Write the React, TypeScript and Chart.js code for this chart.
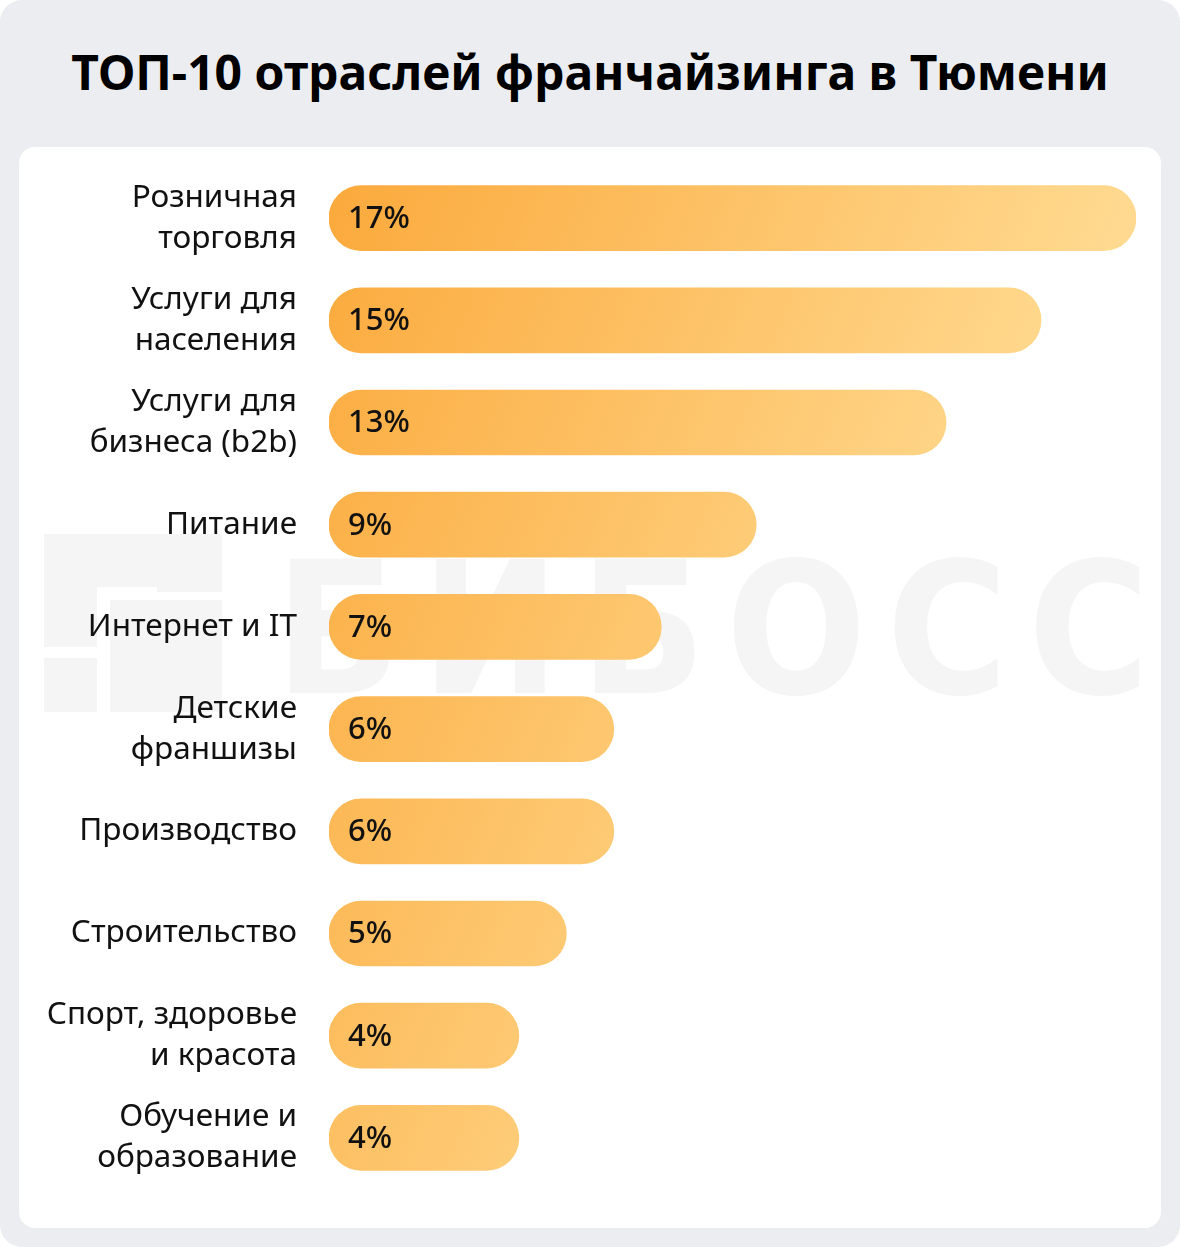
import React, { useEffect, useRef } from "react";
import { Chart, registerables } from "chart.js";

Chart.register(...registerables);

const TITLE = "ТОП-10 отраслей франчайзинга в Тюмени";
const WATERMARK = "БИБОСС";
const categories: string[][] = [
  ["Розничная", "торговля"],
  ["Услуги для", "населения"],
  ["Услуги для", "бизнеса (b2b)"],
  ["Питание"],
  ["Интернет и IT"],
  ["Детские", "франшизы"],
  ["Производство"],
  ["Строительство"],
  ["Спорт, здоровье", "и красота"],
  ["Обучение и", "образование"],
];
const values: number[] = [17, 15, 13, 9, 7, 6, 6, 5, 4, 4];
const valueLabels: string[] = ["17%", "15%", "13%", "9%", "7%", "6%", "6%", "5%", "4%", "4%"];

const FONT = "'Noto Sans', 'Open Sans', sans-serif";
const WM = "#F5F5F6";

const valueLabelPlugin = {
  id: "valueLabels",
  afterDatasetsDraw(chart: any) {
    const { ctx } = chart;
    const meta = chart.getDatasetMeta(0);
    ctx.save();
    ctx.font = `500 31px ${FONT}`;
    ctx.fillStyle = "#111111";
    ctx.textAlign = "left";
    ctx.textBaseline = "middle";
    meta.data.forEach((bar: any, i: number) => {
      ctx.fillText(valueLabels[i], bar.base + 19, bar.y + 1);
    });
    ctx.restore();
  },
};

export default function App() {
  const canvasRef = useRef<HTMLCanvasElement | null>(null);

  useEffect(() => {
    document.body.style.margin = "0";
    const canvas = canvasRef.current;
    if (!canvas) return;
    const chart = new Chart(canvas, {
      type: "bar",
      data: {
        labels: categories,
        datasets: [
          {
            data: values,
            backgroundColor: (c: any) => {
              const area = c.chart.chartArea;
              if (!area) return "#FDBB55";
              const g = c.chart.ctx.createLinearGradient(
                area.left,
                area.top,
                area.left + 698,
                area.top + 276
              );
              g.addColorStop(0, "#FBA93B");
              g.addColorStop(1, "#FFD98F");
              return g;
            },
            borderRadius: 40,
            borderSkipped: false,
            barThickness: 65,
          },
        ],
      },
      options: {
        indexAxis: "y",
        animation: false,
        responsive: false,
        maintainAspectRatio: false,
        layout: { padding: { left: 0, right: 25, top: 20, bottom: 39 } },
        plugins: {
          legend: { display: false },
          tooltip: { enabled: false },
        },
        scales: {
          x: {
            display: false,
            min: 0,
            max: 17,
          },
          y: {
            grid: { display: false, drawTicks: false },
            border: { display: false },
            afterFit: (scale: any) => {
              scale.width = 310;
              scale.paddingTop = 0;
              scale.paddingBottom = 0;
            },
            ticks: {
              padding: 32,
              color: "#111111",
              font: { family: FONT, size: 31.5, lineHeight: 1.3 },
            },
          },
        },
      },
      plugins: [valueLabelPlugin],
    } as any);
    return () => chart.destroy();
  }, []);

  const block = (left: number, top: number, width: number, height: number) => (
    <div style={{ position: "absolute", left, top, width, height, background: WM }} />
  );

  return (
    <div
      style={{
        position: "relative",
        width: 1180,
        height: 1247,
        background: "#ECEDF1",
        borderRadius: 22,
        overflow: "hidden",
        fontFamily: FONT,
      }}
    >
      <div
        style={{
          position: "absolute",
          left: 0,
          right: 0,
          top: 38,
          textAlign: "center",
          fontSize: 48,
          fontWeight: 700,
          color: "#000",
          lineHeight: "68px",
        }}
      >
        {TITLE}
      </div>
      <div
        style={{
          position: "absolute",
          left: 19,
          top: 147,
          width: 1142,
          height: 1081,
          background: "#FFFFFF",
          borderRadius: 16,
          overflow: "hidden",
        }}
      >
        {/* watermark logo */}
        {block(25, 387, 113, 53)}
        {block(25, 387, 53, 113)}
        {block(138, 387, 65, 58)}
        {block(91, 453, 112, 112)}
        {block(25, 511, 53, 54)}
        <div
          style={{
            position: "absolute",
            left: 256,
            top: 390,
            fontFamily: "'DejaVu Sans Condensed', 'DejaVu Sans', sans-serif",
            fontWeight: 700,
            fontSize: 184,
            letterSpacing: 20,
            color: WM,
            lineHeight: "184px",
            whiteSpace: "nowrap",
          }}
        >
          {WATERMARK}
        </div>
        <canvas
          ref={canvasRef}
          width={1142}
          height={1081}
          style={{ position: "absolute", left: 0, top: 0, width: 1142, height: 1081 }}
        />
      </div>
    </div>
  );
}
